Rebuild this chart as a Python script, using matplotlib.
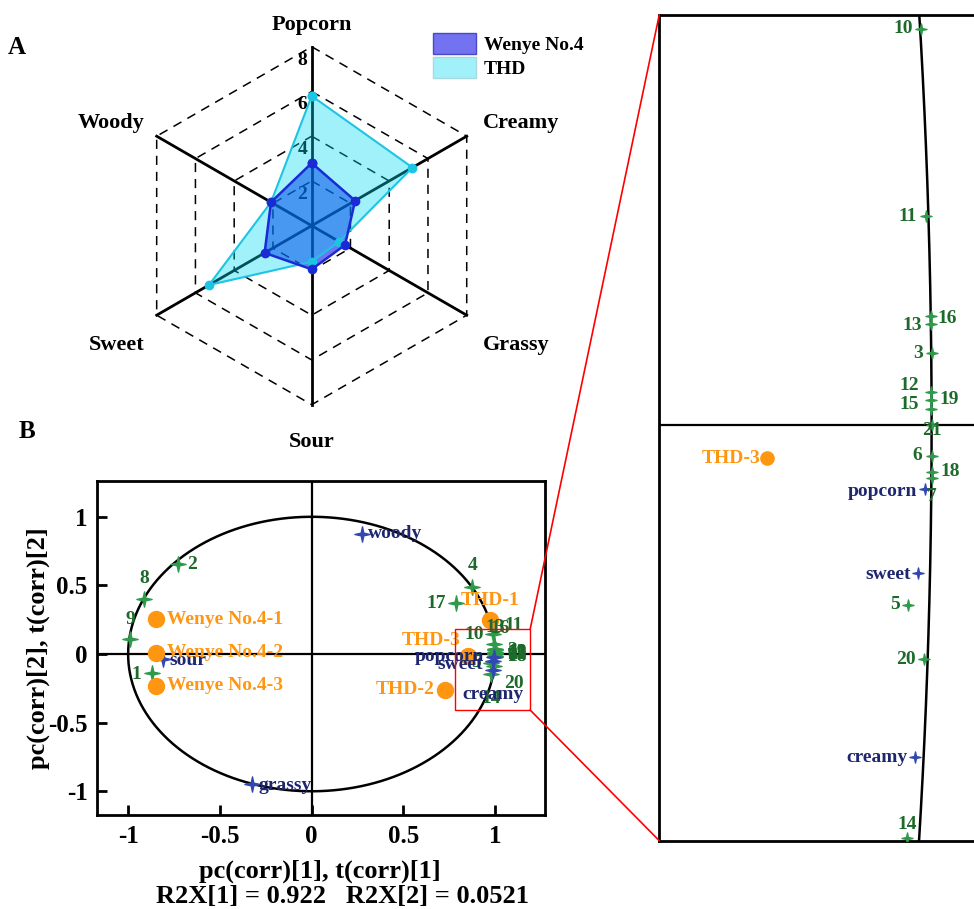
import numpy as np
import matplotlib
matplotlib.use("Agg")
import matplotlib.pyplot as plt
from matplotlib.patches import Patch, Rectangle, ConnectionPatch
from matplotlib.path import Path

plt.rcParams['font.family'] = ['Liberation Serif', 'DejaVu Serif']
plt.rcParams['font.weight'] = 'bold'

# ---- A: sensory radar ----
ATTRIBUTES = ['Popcorn', 'Creamy', 'Grassy', 'Sour', 'Sweet', 'Woody']
WENYE_SCORES = [2.8, 2.24, 1.72, 1.95, 2.43, 2.1]
THD_SCORES = [5.8, 5.2, 1.42, 1.61, 5.3, 2.1]
SERIES_NAMES = ['Wenye No.4', 'THD']
RADAR_TICKS = [2, 4, 6, 8]

# ---- B: PCA loadings / scores ----
VAR_IDS = [str(i) for i in range(1, 22)]
VAR_X = [-0.872, -0.73, 1.0, 0.875, 0.979, 1.0, 1.0, -0.914, -0.99, 0.9902, 0.9949,
         0.9994, 0.9994, 0.9782, 0.9994, 0.9994, 0.786, 1.0, 0.9994, 0.9931, 1.0]
VAR_Y = [-0.141, 0.656, 0.026, 0.49, -0.0646, -0.0109, -0.019, 0.399, 0.107, 0.1428, 0.0754,
         0.012, 0.0365, -0.1487, 0.0059, 0.0394, 0.37, -0.0166, 0.0092, -0.0842, 0.0]
ATTR_NAMES = ['popcorn', 'sweet', 'creamy', 'sour', 'grassy', 'woody']
ATTR_X = [0.994, 0.988, 0.985, -0.809, -0.324, 0.276]
ATTR_Y = [-0.023, -0.0532, -0.1195, -0.039, -0.948, 0.875]
SAMPLE_NAMES = ['Wenye No.4-1', 'Wenye No.4-2', 'Wenye No.4-3', 'THD-1', 'THD-2', 'THD-3']
SAMPLE_X = [-0.85, -0.85, -0.85, 0.972, 0.726, 0.853]
SAMPLE_Y = [0.253, 0.01, -0.231, 0.248, -0.262, -0.0118]
R2X = [0.922, 0.0521]

GREEN, GREEN_TXT = '#2E9A4A', '#1D6A2B'
BLUE, BLUE_TXT = '#3347B2', '#1E276E'
ORANGE = '#FF9612'

W, H = 974, 909
fig = plt.figure(figsize=(W / 100, H / 100), dpi=100)


def px_axes(l, t, r, b):
    return fig.add_axes([l / W, 1 - b / H, (r - l) / W, (b - t) / H])


# 4-pointed star marker
_a = np.deg2rad(np.arange(0, 360, 45))
_r = np.array([1, 0.25] * 4)
STAR = Path(np.column_stack([_r * np.sin(_a), _r * np.cos(_a)]).tolist() + [[0, 1]], closed=True)

# ================= A =================
cx, cy, unit = 311.7, 225.7, 22.375
axA = px_axes(cx - 10 * unit, cy - 10 * unit, cx + 10 * unit, cy + 10 * unit)
axA.set_xlim(-10, 10)
axA.set_ylim(-10, 10)
axA.axis('off')

ang = np.deg2rad(90 - 60 * np.arange(len(ATTRIBUTES)))
ca, sa = np.cos(ang), np.sin(ang)
closed = lambda v: np.append(v, v[0])

for r in RADAR_TICKS:
    axA.plot(closed(r * ca), closed(r * sa), color='k', lw=1.1, ls=(0, (6, 4.5)), zorder=1)
    axA.text(-0.42, r - 0.6, str(r), ha='center', va='center', fontsize=14, zorder=1)
for c, s in zip(ca, sa):
    axA.plot([0, 8 * c], [0, 8 * s], color='k', lw=2.0, zorder=2)

w = np.array(WENYE_SCORES)
t = np.array(THD_SCORES)
axA.fill(w * ca, w * sa, color=(0, 0, 0.9), alpha=0.55, lw=0, zorder=3)
axA.fill(t * ca, t * sa, color=(0, 0.85, 0.96), alpha=0.37, lw=0, zorder=4)
axA.plot(closed(t * ca), closed(t * sa), color='#1EC4E4', lw=1.5, marker='o', ms=6, zorder=5)
axA.plot(closed(w * ca), closed(w * sa), color='#1A2BD6', lw=1.8, marker='o', ms=6, zorder=6)

label_pos = [(0, 8.97), (9.35, 4.58), (9.13, -5.33), (0, -9.65), (-8.72, -5.33), (-8.97, 4.58)]
for name, (lx, ly) in zip(ATTRIBUTES, label_pos):
    axA.text(lx, ly, name, ha='center', va='center', fontsize=16)

axA.legend(handles=[Patch(facecolor=(0, 0, 0.9, 0.55), edgecolor='#4848C8', lw=1),
                    Patch(facecolor=(0, 0.85, 0.96, 0.37), edgecolor='#A8D8E0', lw=1)],
           labels=SERIES_NAMES, loc='upper left', bbox_to_anchor=(433 / W, 1 - 33 / H),
           bbox_transform=fig.transFigure, frameon=False, fontsize=14,
           handlelength=2.2, handleheight=1.3, borderpad=0, borderaxespad=0,
           labelspacing=0.15, handletextpad=0.4)

fig.text(17 / W, 1 - 47 / H, 'A', fontsize=18, ha='center', va='center')
fig.text(27 / W, 1 - 432 / H, 'B', fontsize=18, ha='center', va='center')


# ================= B =================
def label_points(ax, names, xs, ys, offsets, color, fs=14):
    for name, x, y in zip(names, xs, ys):
        if name not in offsets:
            continue
        dx, dy, ha = offsets[name]
        ax.annotate(name, (x, y), xytext=(dx * 0.72, dy * 0.72), textcoords='offset points',
                    ha=ha, va='center', color=color, fontsize=fs, zorder=7)


def pca_base(ax):
    th = np.linspace(0, 2 * np.pi, 500)
    ax.plot(np.cos(th), np.sin(th), color='k', lw=1.8, zorder=2)
    ax.axhline(0, color='k', lw=1.6, zorder=1)
    ax.axvline(0, color='k', lw=1.6, zorder=1)
    for sp in ax.spines.values():
        sp.set_linewidth(2)


axB = px_axes(97.3, 480.7, 545, 815)
pca_base(axB)
axB.set_xlim(-1.168, 1.271)
axB.set_ylim(-1.173, 1.263)
ticks = [-1, -0.5, 0, 0.5, 1]
tick_lbl = ['-1', '-0.5', '0', '0.5', '1']
axB.set_xticks(ticks, tick_lbl)
axB.set_yticks(ticks, tick_lbl)
axB.tick_params(direction='in', length=7, width=2, labelsize=18, pad=7)

axB.plot(VAR_X, VAR_Y, ls='none', marker=STAR, ms=11, color=GREEN, zorder=4)
axB.plot(ATTR_X, ATTR_Y, ls='none', marker=STAR, ms=11, color=BLUE, zorder=4)
axB.plot(SAMPLE_X, SAMPLE_Y, ls='none', marker='o', ms=11.5, color=ORANGE, zorder=5)

main_var_off = {'1': (-10, -1, 'right'), '2': (9, 0, 'left'), '3': (12, 0, 'left'),
                '4': (0, 21, 'center'), '5': (-10, 0, 'right'), '6': (12, 0, 'left'),
                '7': (12, 0, 'left'), '8': (0, 21, 'center'), '9': (0, 20, 'center'),
                '10': (-10, 0, 'right'), '11': (10, 18, 'left'), '12': (12, 0, 'left'),
                '13': (0, 22, 'center'), '14': (0, -24, 'center'), '15': (12, 0, 'left'),
                '16': (5, 20, 'center'), '17': (-10, 0, 'right'), '18': (12, 0, 'left'),
                '19': (12, 0, 'left'), '20': (10, -18, 'left'), '21': (12, 0, 'left')}
main_attr_off = {'popcorn': (-10, 1, 'right'), 'sweet': (-10, -3, 'right'),
                 'creamy': (0, -24, 'center'), 'sour': (6, -1, 'left'),
                 'grassy': (6, -1, 'left'), 'woody': (6, 0, 'left')}
main_samp_off = {'Wenye No.4-1': (11, 0, 'left'), 'Wenye No.4-2': (11, 0, 'left'),
                 'Wenye No.4-3': (11, 0, 'left'), 'THD-1': (0, 19, 'center'),
                 'THD-2': (-10, 0, 'right'), 'THD-3': (-8, 15, 'right')}
label_points(axB, VAR_IDS, VAR_X, VAR_Y, main_var_off, GREEN_TXT)
label_points(axB, ATTR_NAMES, ATTR_X, ATTR_Y, main_attr_off, BLUE_TXT)
label_points(axB, SAMPLE_NAMES, SAMPLE_X, SAMPLE_Y, main_samp_off, ORANGE)

fig.text(320 / W, 1 - 871 / H, 'pc(corr)[1], t(corr)[1]', fontsize=19, ha='center', va='center')
fig.text(343 / W, 1 - 897 / H, 'R2X[1] = %g   R2X[2] = %g' % (R2X[0], R2X[1]),
         fontsize=19, ha='center', va='center')
fig.text(38 / W, 1 - 648 / H, 'pc(corr)[2], t(corr)[2]', fontsize=19, rotation=90,
         ha='center', va='center')

# zoom box
zx0, zx1, zy0, zy1 = 0.781, 1.19, -0.408, 0.18
axB.add_patch(Rectangle((zx0, zy0), zx1 - zx0, zy1 - zy0, fill=False, ec='red', lw=1, zorder=8))

# ================= inset =================
axI = px_axes(659.3, 14.7, 987.5, 840.7)
pca_base(axI)
axI.set_xlim(0.7564, 1.05)
axI.set_ylim(-0.1495, 0.1479)
axI.set_xticks([])
axI.set_yticks([])

axI.plot(VAR_X, VAR_Y, ls='none', marker=STAR, ms=8, color=GREEN, zorder=4)
axI.plot(ATTR_X, ATTR_Y, ls='none', marker=STAR, ms=8, color=BLUE, zorder=4)
axI.plot(SAMPLE_X, SAMPLE_Y, ls='none', marker='o', ms=9.5, color=ORANGE, zorder=5)

ins_var_off = {'3': (-9, 0, 'right'), '5': (-8, 0, 'right'), '6': (-9, 0, 'right'),
               '7': (0, -18, 'center'), '10': (-8, 0, 'right'), '11': (-9, 0, 'right'),
               '12': (-12, 7, 'right'), '13': (-9, -1, 'right'), '14': (0, 14, 'center'),
               '15': (-12, 5, 'right'), '16': (7, -2, 'left'), '18': (9, 0, 'left'),
               '19': (9, 0, 'left'), '20': (-8, 0, 'right'), '21': (0, -5, 'center')}
ins_attr_off = {'popcorn': (-8, -2, 'right'), 'sweet': (-7, -1, 'right'),
                'creamy': (-7, 0, 'right')}
ins_samp_off = {'THD-3': (-7, 0, 'right')}
label_points(axI, VAR_IDS, VAR_X, VAR_Y, ins_var_off, GREEN_TXT)
label_points(axI, ATTR_NAMES, ATTR_X, ATTR_Y, ins_attr_off, BLUE_TXT)
label_points(axI, SAMPLE_NAMES, SAMPLE_X, SAMPLE_Y, ins_samp_off, ORANGE)

for ya, yb in [(zy1, 1), (zy0, 0)]:
    con = ConnectionPatch(xyA=(zx1, ya), coordsA=axB.transData, xyB=(0, yb),
                          coordsB=axI.transAxes, color='red', lw=1.2)
    fig.add_artist(con)

fig.savefig('out.png', dpi=100)
